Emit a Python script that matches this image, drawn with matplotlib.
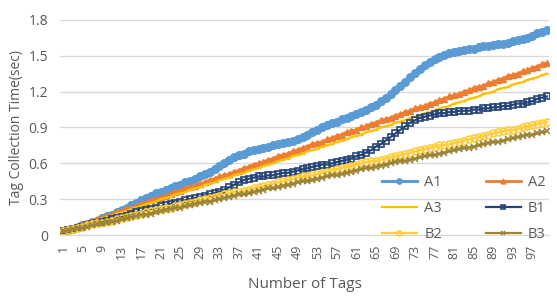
import matplotlib
matplotlib.use('Agg')
import matplotlib.pyplot as plt
import numpy as np

plt.rcParams['font.family'] = ['Open Sans', 'DejaVu Sans']

tags = list(range(1, 101))

a1 = [0.03, 0.04, 0.05, 0.07, 0.08, 0.09, 0.11, 0.12, 0.14, 0.16,
      0.17, 0.19, 0.21, 0.23, 0.25, 0.27, 0.29, 0.31, 0.33, 0.35,
      0.36, 0.38, 0.39, 0.41, 0.42, 0.44, 0.45, 0.47, 0.49, 0.51,
      0.53, 0.55, 0.58, 0.60, 0.63, 0.65, 0.67, 0.68, 0.70, 0.71,
      0.72, 0.73, 0.74, 0.75, 0.76, 0.77, 0.78, 0.79, 0.80, 0.82,
      0.84, 0.86, 0.88, 0.90, 0.92, 0.94, 0.95, 0.97, 0.98, 1.00,
      1.01, 1.03, 1.05, 1.07, 1.09, 1.12, 1.15, 1.18, 1.21, 1.25,
      1.28, 1.32, 1.36, 1.39, 1.42, 1.45, 1.47, 1.49, 1.51, 1.52,
      1.53, 1.54, 1.55, 1.56, 1.56, 1.57, 1.58, 1.58, 1.59, 1.60,
      1.60, 1.61, 1.62, 1.63, 1.64, 1.65, 1.67, 1.69, 1.70, 1.72]

a2 = [0.03, 0.04, 0.06, 0.07, 0.09, 0.10, 0.12, 0.13, 0.14, 0.16,
      0.17, 0.19, 0.20, 0.22, 0.23, 0.24, 0.26, 0.27, 0.29, 0.30,
      0.31, 0.33, 0.34, 0.36, 0.37, 0.39, 0.40, 0.41, 0.43, 0.44,
      0.46, 0.47, 0.49, 0.50, 0.51, 0.53, 0.54, 0.56, 0.57, 0.59,
      0.60, 0.61, 0.63, 0.64, 0.66, 0.67, 0.68, 0.70, 0.71, 0.73,
      0.74, 0.76, 0.77, 0.78, 0.80, 0.81, 0.83, 0.84, 0.86, 0.87,
      0.88, 0.90, 0.91, 0.93, 0.94, 0.96, 0.97, 0.98, 1.00, 1.01,
      1.03, 1.04, 1.06, 1.07, 1.08, 1.10, 1.11, 1.13, 1.14, 1.16,
      1.17, 1.18, 1.20, 1.21, 1.23, 1.24, 1.25, 1.27, 1.28, 1.30,
      1.31, 1.33, 1.34, 1.35, 1.37, 1.38, 1.40, 1.41, 1.43, 1.44]

a3 = [0.03, 0.04, 0.06, 0.07, 0.08, 0.10, 0.11, 0.12, 0.14, 0.15,
      0.16, 0.18, 0.19, 0.20, 0.22, 0.23, 0.24, 0.26, 0.27, 0.28,
      0.30, 0.31, 0.32, 0.34, 0.35, 0.36, 0.38, 0.39, 0.40, 0.42,
      0.43, 0.44, 0.46, 0.47, 0.48, 0.50, 0.51, 0.52, 0.54, 0.55,
      0.56, 0.58, 0.59, 0.60, 0.62, 0.63, 0.64, 0.66, 0.67, 0.68,
      0.70, 0.71, 0.72, 0.74, 0.75, 0.76, 0.78, 0.79, 0.80, 0.82,
      0.83, 0.84, 0.86, 0.87, 0.88, 0.90, 0.91, 0.92, 0.94, 0.95,
      0.96, 0.98, 0.99, 1.00, 1.02, 1.03, 1.04, 1.06, 1.07, 1.08,
      1.10, 1.11, 1.12, 1.14, 1.15, 1.16, 1.18, 1.19, 1.20, 1.22,
      1.23, 1.24, 1.26, 1.27, 1.28, 1.30, 1.31, 1.32, 1.34, 1.35]

b1 = [0.03, 0.04, 0.05, 0.06, 0.07, 0.08, 0.09, 0.10, 0.11, 0.12,
      0.13, 0.14, 0.15, 0.16, 0.18, 0.19, 0.20, 0.21, 0.22, 0.23,
      0.24, 0.25, 0.26, 0.27, 0.28, 0.29, 0.30, 0.31, 0.32, 0.33,
      0.34, 0.35, 0.36, 0.38, 0.40, 0.42, 0.44, 0.46, 0.47, 0.48,
      0.49, 0.49, 0.50, 0.50, 0.51, 0.52, 0.52, 0.53, 0.54, 0.55,
      0.56, 0.57, 0.58, 0.59, 0.59, 0.60, 0.61, 0.62, 0.63, 0.64,
      0.66, 0.67, 0.69, 0.71, 0.74, 0.76, 0.79, 0.82, 0.85, 0.88,
      0.91, 0.94, 0.96, 0.98, 0.99, 1.00, 1.01, 1.02, 1.02, 1.03,
      1.03, 1.04, 1.04, 1.04, 1.05, 1.05, 1.06, 1.06, 1.07, 1.07,
      1.08, 1.08, 1.09, 1.10, 1.10, 1.11, 1.12, 1.14, 1.15, 1.16]

b2 = [0.03, 0.04, 0.05, 0.06, 0.07, 0.08, 0.09, 0.10, 0.10, 0.11,
      0.12, 0.13, 0.14, 0.15, 0.16, 0.17, 0.18, 0.19, 0.20, 0.21,
      0.22, 0.23, 0.23, 0.24, 0.25, 0.26, 0.27, 0.28, 0.29, 0.30,
      0.31, 0.32, 0.33, 0.34, 0.35, 0.36, 0.36, 0.37, 0.38, 0.39,
      0.40, 0.41, 0.42, 0.43, 0.44, 0.45, 0.46, 0.47, 0.48, 0.49,
      0.49, 0.50, 0.51, 0.52, 0.53, 0.54, 0.55, 0.56, 0.57, 0.58,
      0.59, 0.60, 0.61, 0.62, 0.62, 0.63, 0.64, 0.65, 0.66, 0.67,
      0.68, 0.69, 0.70, 0.71, 0.72, 0.73, 0.74, 0.75, 0.75, 0.76,
      0.77, 0.78, 0.79, 0.80, 0.81, 0.82, 0.83, 0.84, 0.85, 0.86,
      0.87, 0.88, 0.88, 0.89, 0.90, 0.91, 0.92, 0.93, 0.94, 0.95]

b3 = [0.03, 0.04, 0.05, 0.06, 0.06, 0.07, 0.08, 0.09, 0.10, 0.11,
      0.11, 0.12, 0.13, 0.14, 0.15, 0.16, 0.17, 0.17, 0.18, 0.19,
      0.20, 0.21, 0.22, 0.23, 0.23, 0.24, 0.25, 0.26, 0.27, 0.28,
      0.28, 0.29, 0.30, 0.31, 0.32, 0.33, 0.34, 0.34, 0.35, 0.36,
      0.37, 0.38, 0.39, 0.39, 0.40, 0.41, 0.42, 0.43, 0.44, 0.45,
      0.45, 0.46, 0.47, 0.48, 0.49, 0.50, 0.50, 0.51, 0.52, 0.53,
      0.54, 0.55, 0.56, 0.56, 0.57, 0.58, 0.59, 0.60, 0.61, 0.62,
      0.62, 0.63, 0.64, 0.65, 0.66, 0.67, 0.67, 0.68, 0.69, 0.70,
      0.71, 0.72, 0.73, 0.73, 0.74, 0.75, 0.76, 0.77, 0.78, 0.78,
      0.79, 0.80, 0.81, 0.82, 0.83, 0.84, 0.84, 0.85, 0.86, 0.87]

gray = '#595959'

fig = plt.figure(figsize=(5.57, 2.98), dpi=100)
ax = fig.add_axes([0.1086, 0.2114, 0.8779, 0.7215])

# series styles, Excel-like
l_a1, = ax.plot(tags, a1, color='#5B9BD5', lw=2.2, marker='o', ms=5.5, label='A1')
l_a2, = ax.plot(tags, a2, color='#ED7D31', lw=2, marker='^', ms=5, label='A2')
l_a3, = ax.plot(tags, a3, color='#FFC000', lw=1.6, marker='_', ms=3, label='A3')
l_b1, = ax.plot(tags, b1, color='#264478', lw=1.6, marker='s', ms=4.5, mfc='none', mew=1.2, label='B1')
l_b2, = ax.plot(tags, b2, color='#FFCD3C', lw=1.6, marker='o', ms=5, mfc='none', mew=1.2, label='B2')
l_b3, = ax.plot(tags, b3, color='#9C8436', lw=1.6, marker='x', ms=4.5, mew=1.1, label='B3')

ax.set_xlim(0.5, 100.5)
ax.set_ylim(0, 1.8)
ax.set_yticks(np.arange(0, 1.81, 0.3))
ax.set_yticklabels(['0', '0.3', '0.6', '0.9', '1.2', '1.5', '1.8'])
ax.set_xticks(tags[::4])
ax.set_xticklabels([str(t) for t in tags[::4]], rotation=90)

ax.grid(axis='y', color='#D9D9D9', lw=1)
ax.set_axisbelow(True)
for s in ['top', 'right', 'left']:
    ax.spines[s].set_visible(False)
ax.spines['bottom'].set_color('#D9D9D9')
ax.tick_params(length=0, colors=gray)
ax.tick_params(axis='y', labelsize=10, pad=9)
ax.tick_params(axis='x', labelsize=9, pad=7)

ax.set_xlabel('Number of Tags', color=gray, fontsize=11, labelpad=13)
ax.set_ylabel('Tag Collection Time(sec)', color=gray, fontsize=10, labelpad=3)

# row-major order like Excel: A1 A2 / A3 B1 / B2 B3
handles = [l_a1, l_a3, l_b2, l_a2, l_b1, l_b3]
ax.legend(handles, [h.get_label() for h in handles], ncol=2,
          loc='upper left', bbox_to_anchor=(382 / 557, 1 - 175 / 298),
          bbox_transform=fig.transFigure, frameon=False, borderpad=0,
          borderaxespad=0, fontsize=10.5, labelcolor=gray, handlelength=2.4,
          handletextpad=0.5, columnspacing=3.0, labelspacing=0.75,
          markerscale=0.7)

fig.savefig('out.png', dpi=100)
